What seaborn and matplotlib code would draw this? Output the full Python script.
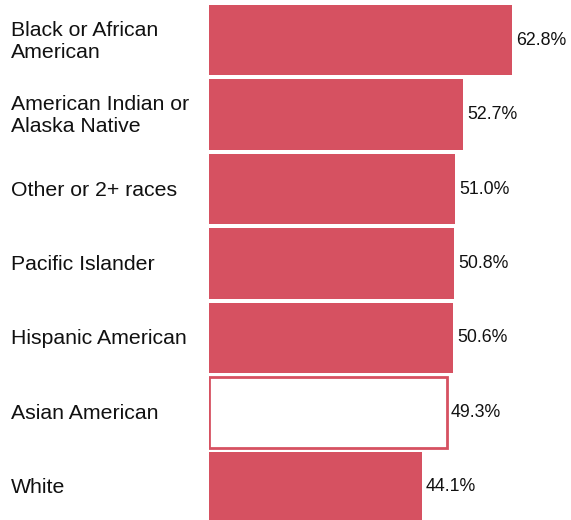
import matplotlib
matplotlib.use("Agg")
import matplotlib.pyplot as plt
import matplotlib.transforms as mtransforms
import seaborn as sns
import pandas as pd

categories = ["Black or African\nAmerican", "American Indian or\nAlaska Native",
              "Other or 2+ races", "Pacific Islander", "Hispanic American",
              "Asian American", "White"]
values = [62.8, 52.7, 51.0, 50.8, 50.6, 49.3, 44.1]
highlight = "Asian American"

red = "#d65161"

sns.set_style("white")
plt.rcParams["font.family"] = ["Liberation Sans", "DejaVu Sans"]

df = pd.DataFrame({"group": categories, "pct": values})

fig = plt.figure(figsize=(5.71, 5.2), dpi=100)
ax = fig.add_axes([209 / 571, 0, 362 / 571, 1])

sns.barplot(data=df, x="pct", y="group", orient="h", color=red,
            saturation=1, width=0.94, ax=ax)

for patch, cat in zip(ax.patches, categories):
    patch.set_linewidth(0)
    if cat == highlight:
        patch.set_facecolor("white")
        patch.set_edgecolor(red)
        patch.set_linewidth(2)

ax.set_xlim(0, 75)
ax.set_ylim(6.443, -0.537)
ax.set_xlabel("")
ax.set_ylabel("")
ax.set_xticks([])
ax.set_yticks([])
sns.despine(ax=ax, left=True, bottom=True)

trans = mtransforms.blended_transform_factory(fig.transFigure, ax.transData)
offset = mtransforms.offset_copy(ax.transData, fig=fig, x=4, y=0, units="dots")
label_shift = mtransforms.offset_copy(trans, fig=fig, x=0, y=-1, units="dots")
for i, (cat, v) in enumerate(zip(categories, values)):
    ax.text(11 / 571, i, cat, transform=label_shift, ha="left", va="center",
            fontsize=15.3, linespacing=1.2, color="#111111")
    ax.text(v, i, f"{v:.1f}%", transform=offset, ha="left", va="center",
            fontsize=12.8, color="#111111")

fig.savefig("out.png", dpi=100)
